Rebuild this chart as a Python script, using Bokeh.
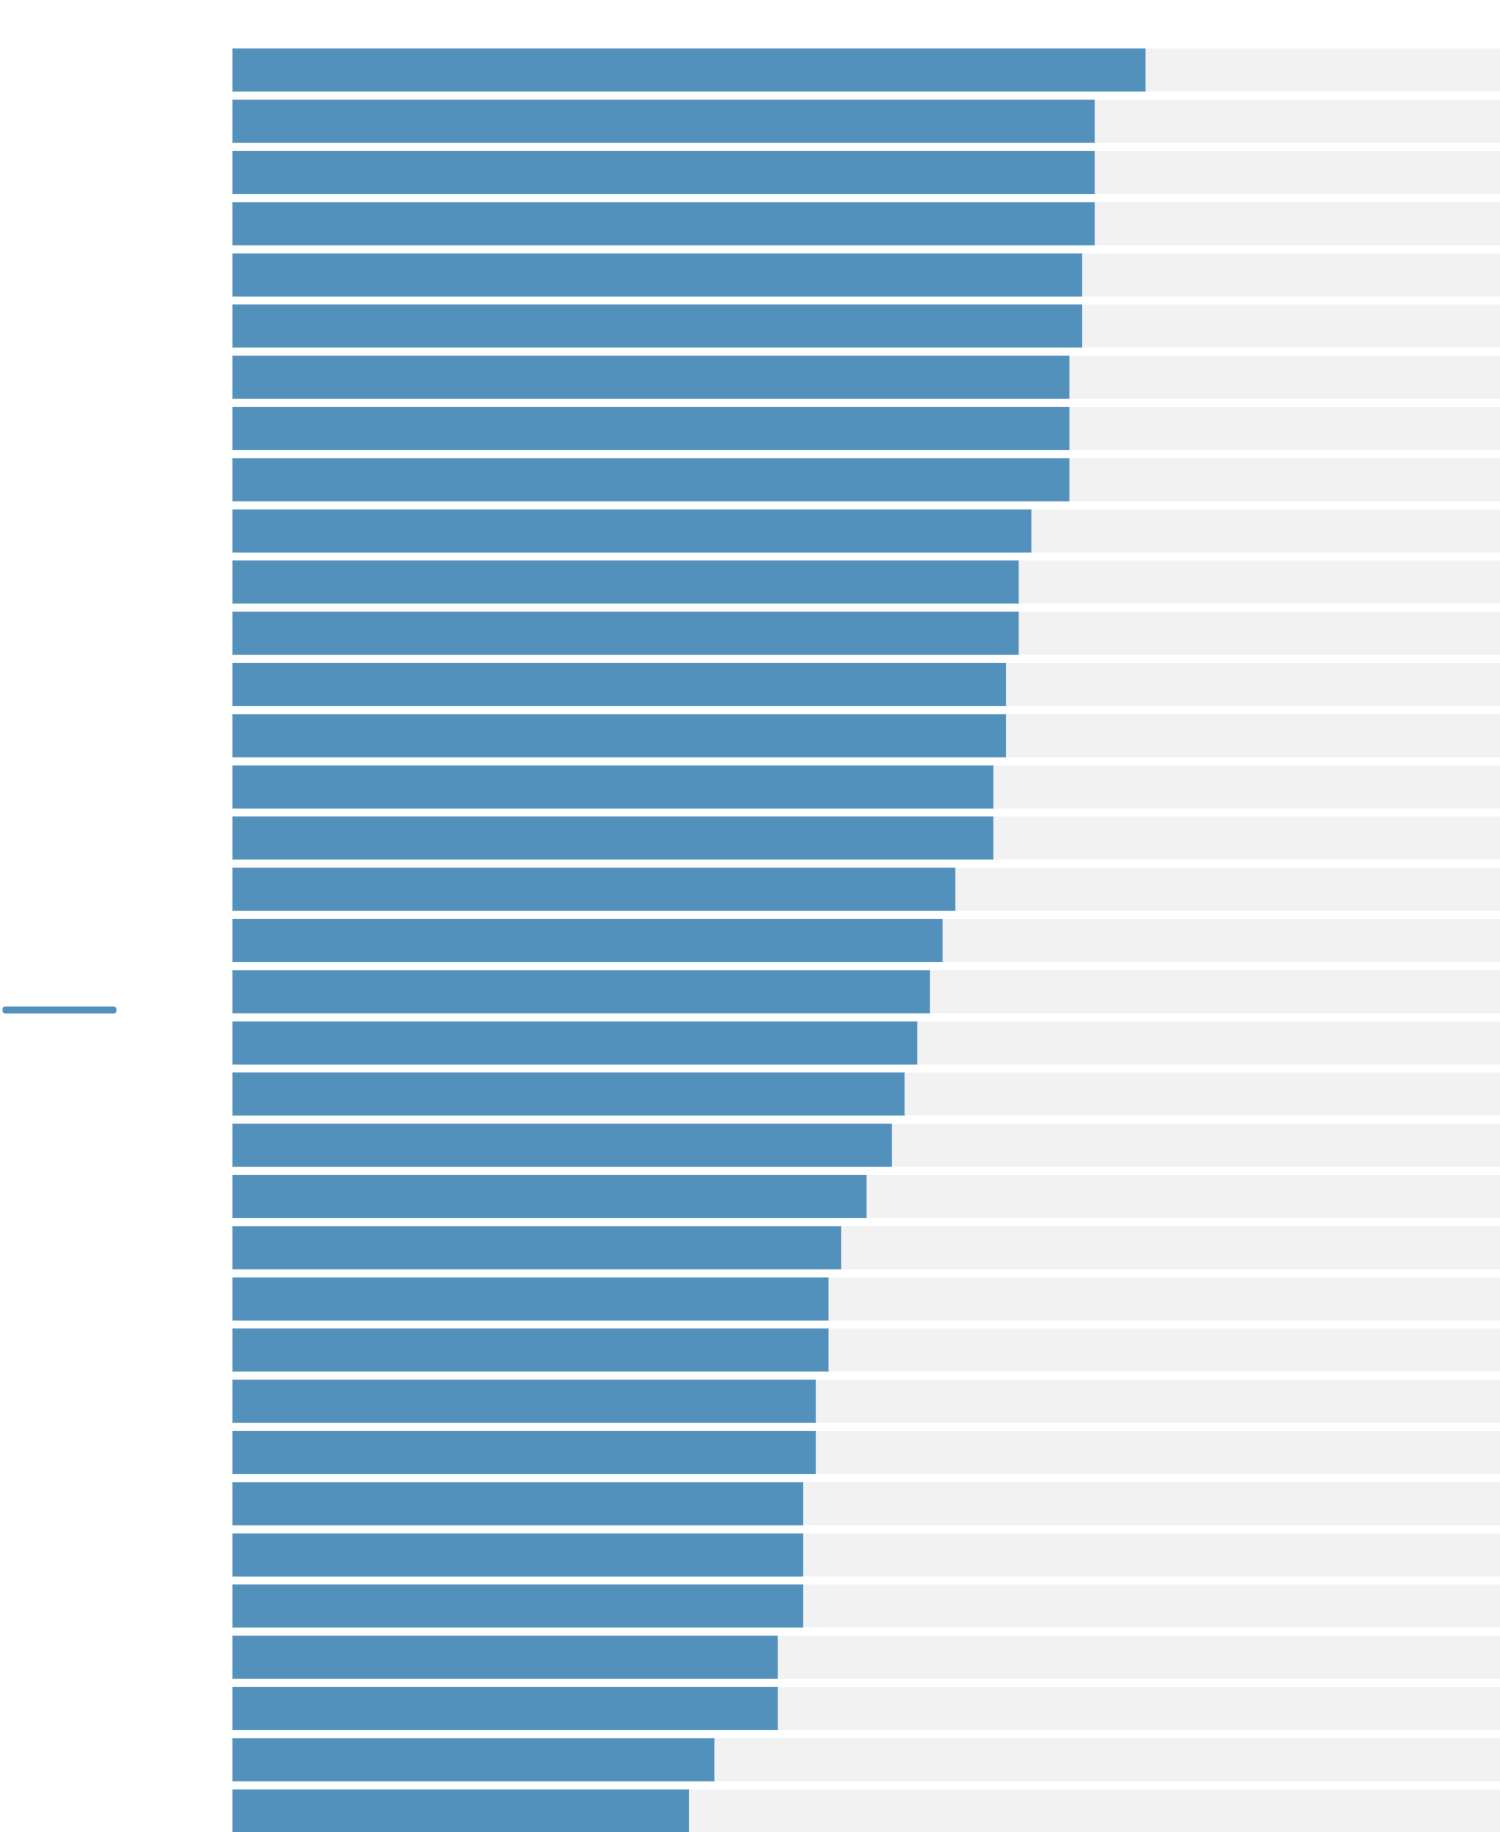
from bokeh.plotting import figure
from bokeh.models import Range1d, BoxAnnotation
from bokeh.embed import file_html
from bokeh.resources import INLINE

# --- data ---
categories = [f"Item {i}" for i in range(1, 36)]
values = [72, 68, 68, 68, 67, 67, 66, 66, 66, 63, 62, 62, 61, 61, 60, 60,
          57, 56, 55, 54, 53, 52, 50, 48, 47, 47, 46, 46, 45, 45, 45, 43, 43,
          38, 36]
full_scale = [100] * len(categories)

BLUE = "#5391bd"
GREY = "#f2f2f2"

W, H = 1500, 1832
LEFT_GAP = 232          # pixels left of the value axis origin
TOP_GAP = 44
PITCH = 51.2            # pixels per row

positions = list(range(len(categories)))
x_start = -100.0 * LEFT_GAP / (W - LEFT_GAP)
y_end = -0.5 + (H - TOP_GAP) / PITCH

p = figure(
    width=W, height=H,
    x_range=Range1d(x_start, 100),
    y_range=Range1d(y_end, -0.5),
    x_axis_location=None, y_axis_location=None,
    toolbar_location=None, output_backend="svg",
    min_border_left=0, min_border_right=0,
    min_border_top=TOP_GAP, min_border_bottom=0,
)
p.outline_line_color = None
p.xgrid.visible = False
p.ygrid.visible = False
p.background_fill_color = "white"
p.border_fill_color = "white"

p.hbar(y=positions, right=full_scale, left=0, height=0.84,
       fill_color=GREY, line_color=None)
p.hbar(y=positions, right=values, left=0, height=0.84,
       fill_color=BLUE, line_color="#8fb4d3", line_width=0.6, line_alpha=0.4)

# small blue stroke at the left edge
stroke = BoxAnnotation(left=2, right=116, top=1006, bottom=1013,
                       left_units="canvas", right_units="canvas",
                       top_units="canvas", bottom_units="canvas",
                       fill_color=BLUE, fill_alpha=1.0, line_color=None,
                       border_radius=3)
p.add_layout(stroke)

open("out.html", "w").write(file_html(p, INLINE))
